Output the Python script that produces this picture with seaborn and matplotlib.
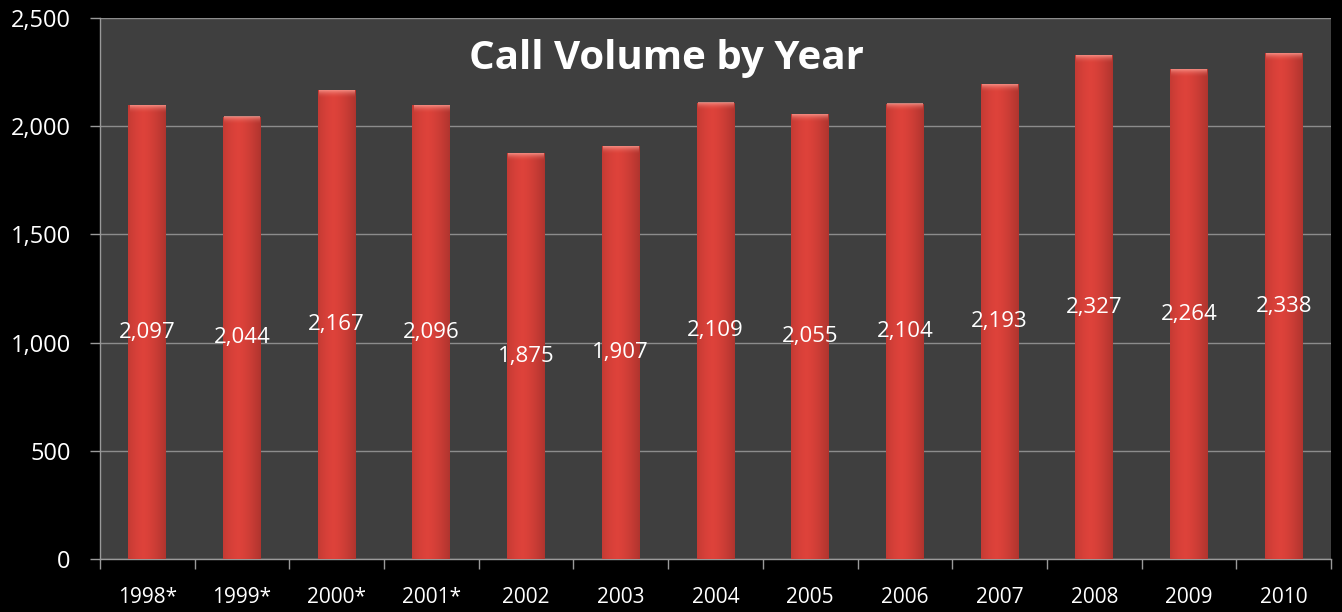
import numpy as np
import pandas as pd
import matplotlib
matplotlib.use("Agg")
import matplotlib.pyplot as plt
import seaborn as sns

years = ['1998*', '1999*', '2000*', '2001*', '2002', '2003', '2004',
         '2005', '2006', '2007', '2008', '2009', '2010']
calls = [2097, 2044, 2167, 2096, 1875, 1907, 2109, 2055, 2104, 2193, 2327, 2264, 2338]
yticks = [0, 500, 1000, 1500, 2000, 2500]

df = pd.DataFrame({'year': years, 'calls': calls})

sns.set_style("dark")
plt.rcParams['font.family'] = ['Open Sans', 'DejaVu Sans']

fig = plt.figure(figsize=(13.42, 6.12), dpi=100, facecolor='black')
ax = fig.add_axes([100 / 1342, 53 / 612, 1231 / 1342, 541 / 612])
ax.set_facecolor('#3f3f3f')

sns.barplot(data=df, x='year', y='calls', color='#d63c36', width=0.4,
            saturation=1, ax=ax, zorder=3, edgecolor='none', linewidth=0)

# shading on the bars: darker sides, lighter middle, pink cap on top
grad = np.linspace(0, 1, 64)
shade = 1 - 0.45 * np.abs(grad - 0.4) ** 1.5
rgb = np.array([0.87, 0.26, 0.23])
img = np.clip(rgb[None, None, :] * shade[None, :, None], 0, 1)
cap = np.linspace(0, 1, 32)
for p in ax.patches:
    x0, w, h = p.get_x(), p.get_width(), p.get_height()
    im = ax.imshow(img, extent=[x0, x0 + w, 0, h], aspect='auto', zorder=4)
    im.set_clip_path(p)
    top = np.zeros((32, 1, 4))
    top[..., 0], top[..., 1], top[..., 2] = 0.98, 0.6, 0.56
    top[:, 0, 3] = 0.85 * cap ** 2.2
    ax.imshow(top, extent=[x0 + w * 0.03, x0 + w * 0.97, h - 40, h],
              aspect='auto', zorder=5, origin='lower')

for i, v in enumerate(calls):
    ax.text(i, v / 2, f'{v:,}', ha='center', va='center', color='white',
            fontsize=16, zorder=6)

ax.text(0.46, 0.925, 'Call Volume by Year', transform=ax.transAxes,
        ha='center', va='center', color='white', fontsize=29,
        fontweight='bold', zorder=6)

ax.set_ylim(0, 2500)
ax.set_xlim(-0.5, len(years) - 0.5)
ax.set_yticks(yticks)
ax.set_yticklabels([f'{t:,}' for t in yticks])
ax.grid(axis='y', color='#8c8c8c', lw=1, zorder=1)
ax.grid(axis='x', visible=False)
ax.set_xlabel('')
ax.set_ylabel('')

ax.set_xticks(np.arange(-0.5, len(years), 1), minor=True)
ax.tick_params(axis='x', which='major', length=0, pad=20, labelsize=15,
               labelcolor='white')
ax.tick_params(axis='x', which='minor', length=7, color='#9a9a9a', width=1,
               direction='out', bottom=True)
ax.tick_params(axis='y', length=7, color='#9a9a9a', width=1, direction='out',
               left=True, labelsize=17, labelcolor='white', pad=14)

for s in ['top', 'right']:
    ax.spines[s].set_visible(False)
for s in ['left', 'bottom']:
    ax.spines[s].set_visible(True)
    ax.spines[s].set_color('#9a9a9a')
    ax.spines[s].set_linewidth(1)

fig.savefig('out.png', dpi=100, facecolor='black')
